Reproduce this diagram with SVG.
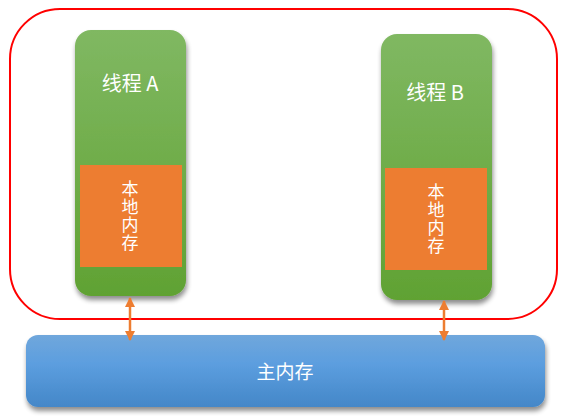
<svg xmlns="http://www.w3.org/2000/svg" width="568" height="418" viewBox="0 0 568 418">
<defs>
<linearGradient id="g" x1="0" y1="0" x2="0" y2="1"><stop offset="0" stop-color="#80b862"/><stop offset="1" stop-color="#60a233"/></linearGradient>
<linearGradient id="b" x1="0" y1="0" x2="0" y2="1"><stop offset="0" stop-color="#70a7dc"/><stop offset="0.4" stop-color="#5c9edf"/><stop offset="1" stop-color="#4487c8"/></linearGradient>
<filter id="sh" x="-20%" y="-20%" width="140%" height="140%"><feGaussianBlur in="SourceAlpha" stdDeviation="2.5"/><feOffset dx="1" dy="4"/><feComponentTransfer><feFuncA type="linear" slope="0.45"/></feComponentTransfer><feMerge><feMergeNode/><feMergeNode in="SourceGraphic"/></feMerge></filter>
<marker id="ah" viewBox="0 0 10 10" refX="9" refY="5" markerWidth="4" markerHeight="4" orient="auto-start-reverse" markerUnits="strokeWidth"><path d="M0,0 L10,5 L0,10 z" fill="#ed7d31"/></marker>
<style>
.t{font-family:"Noto Sans CJK SC","Liberation Sans",sans-serif;fill:#fff;text-anchor:middle}
.v{font-family:"Noto Sans CJK SC",sans-serif;fill:#fff;font-size:17px;writing-mode:vertical-rl;letter-spacing:1px}
.c{stroke:#ed7d31;stroke-width:2.5;fill:none}
</style>
</defs>
<rect x="10" y="9" width="547" height="310" rx="50" fill="#fff" stroke="#ff0000" stroke-width="2"/>
<g id="threadA">
<rect x="75" y="30" width="111" height="266" rx="16" fill="url(#g)" filter="url(#sh)"/>
<text class="t" x="130" y="91" font-size="20">线程 A</text>
</g>
<g id="localA">
<rect x="80" y="165" width="102" height="102" fill="#ed7d31"/>
<text class="v" x="130" y="180">本地内存</text>
</g>
<g id="threadB">
<rect x="381" y="34" width="111" height="266" rx="16" fill="url(#g)" filter="url(#sh)"/>
<text class="t" x="435" y="100" font-size="20">线程 B</text>
</g>
<g id="localB">
<rect x="385" y="168" width="102" height="102" fill="#ed7d31"/>
<text class="v" x="436" y="183">本地内存</text>
</g>
<g id="mainMemory">
<rect x="26" y="335" width="519" height="72" rx="12" fill="url(#b)" filter="url(#sh)"/>
<text class="t" x="285" y="379" font-size="19">主内存</text>
</g>
<g id="connectors">
<line class="c" x1="130" y1="298" x2="130" y2="340" marker-start="url(#ah)" marker-end="url(#ah)"/>
<line class="c" x1="444" y1="301" x2="444" y2="340" marker-start="url(#ah)" marker-end="url(#ah)"/>
</g>
</svg>
